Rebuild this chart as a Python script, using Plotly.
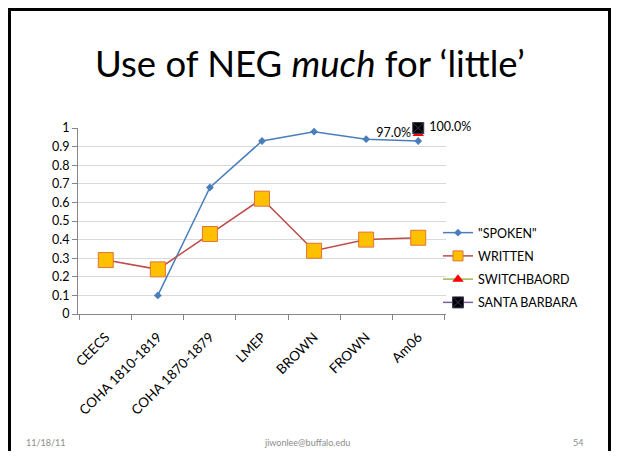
import plotly.graph_objects as go

categories = ["CEECS", "COHA 1810-1819", "COHA 1870-1879", "LMEP", "BROWN", "FROWN", "Am06"]
spoken = [None, 0.10, 0.68, 0.93, 0.98, 0.94, 0.93]
written = [0.29, 0.24, 0.43, 0.62, 0.34, 0.40, 0.41]
switchboard_cat = ["Am06"]
switchboard = [0.97]
santa_barbara_cat = ["Am06"]
santa_barbara = [1.00]
y_ticks = [0, 0.1, 0.2, 0.3, 0.4, 0.5, 0.6, 0.7, 0.8, 0.9, 1]
y_tick_text = ["0", "0.1", "0.2", "0.3", "0.4", "0.5", "0.6", "0.7", "0.8", "0.9", "1"]

# page has an 8px body margin; size the figure so the page is 619x459
OFF = 8
W, H = 619 - 2 * OFF, 459 - 2 * OFF
FONT = "Lato"


def px(x):
    return (x - OFF) / W


def py(y):
    return 1 - (y - OFF) / H


fig = go.Figure()
fig.add_trace(go.Scatter(
    x=categories, y=spoken, name='"SPOKEN"', mode="lines+markers",
    line=dict(color="#4A7EBB", width=1.5),
    marker=dict(symbol="diamond", size=6, color="#4A7EBB"),
    legendgroup="a", cliponaxis=False))
fig.add_trace(go.Scatter(
    x=categories, y=written, name="WRITTEN", mode="lines+markers",
    line=dict(color="#BE4B48", width=1.5),
    marker=dict(symbol="square", size=15, color="#FFC000", line=dict(color="#E0733A", width=1)),
    legendgroup="b", showlegend=False, cliponaxis=False))
# legend entry for WRITTEN with a smaller marker (legend only, no data)
fig.add_trace(go.Scatter(
    x=[None], y=[None], name="WRITTEN", mode="lines+markers",
    line=dict(color="#BE4B48", width=1.5),
    marker=dict(symbol="square", size=10, color="#FFC000", line=dict(color="#E0733A", width=1)),
    legendgroup="b"))
fig.add_trace(go.Scatter(
    x=switchboard_cat, y=switchboard, name="SWITCHBAORD", mode="lines+markers+text",
    line=dict(color="#98B954", width=1.5),
    marker=dict(symbol="triangle-up", size=10, color="#FF0000"),
    text=[f"{v*100:.1f}%" for v in switchboard], textposition="middle left",
    textfont=dict(family=FONT, size=12.5, color="#000000"),
    legendgroup="c", cliponaxis=False))
fig.add_trace(go.Scatter(
    x=santa_barbara_cat, y=santa_barbara, name="SANTA BARBARA", mode="lines+markers+text",
    line=dict(color="#7D60A0", width=1.5),
    marker=dict(symbol="square-x", size=11, color="#000000", line=dict(color="#3a3a5a", width=1)),
    text=[" " + f"{v*100:.1f}%" for v in santa_barbara], textposition="middle right",
    textfont=dict(family=FONT, size=12.5, color="#000000"),
    legendgroup="d", cliponaxis=False))

x0, x1 = 78, 446
y0, y1 = 314, 128
fig.update_layout(
    width=W, height=H,
    margin=dict(l=0, r=0, t=0, b=0, autoexpand=False),
    paper_bgcolor="white", plot_bgcolor="white",
    font=dict(family=FONT, size=12, color="#000000"),
    showlegend=True,
    legend=dict(x=px(438), y=py(218), xanchor="left", yanchor="top",
                font=dict(family=FONT, size=12.5), tracegroupgap=4, itemwidth=30,
                bgcolor="rgba(0,0,0,0)"),
    xaxis=dict(domain=[px(x0), px(x1)], type="category", categoryorder="array",
               categoryarray=categories, tickson="boundaries", ticks="outside",
               ticklen=5, tickcolor="#868686", showline=True, linecolor="#868686",
               showgrid=False, tickangle=-45, tickfont=dict(family=FONT, size=13.5),
               ticklabelstandoff=9, zeroline=False),
    yaxis=dict(domain=[py(y0), py(y1)], range=[0, 1],
               tickvals=y_ticks, ticktext=y_tick_text, ticks="outside", ticklen=5,
               tickcolor="#868686", showline=True, linecolor="#868686",
               showgrid=True, gridcolor="#D9D9D9", zeroline=False,
               tickfont=dict(family=FONT, size=12.5)),
)

fig.add_shape(type="rect", xref="paper", yref="paper",
              x0=px(9.5), x1=px(609.5), y0=py(480), y1=py(9.5),
              line=dict(color="#000000", width=3), layer="above")

fig.add_annotation(text="Use of NEG <i>much</i> for ‘little’", xref="paper", yref="paper",
                   x=px(310), y=py(63), xanchor="center", yanchor="middle", showarrow=False,
                   font=dict(family=FONT, size=36.5, color="#000000"))
fig.add_annotation(text="11/18/11", xref="paper", yref="paper",
                   x=px(45), y=py(442), xanchor="center", yanchor="middle", showarrow=False,
                   font=dict(family=FONT, size=9, color="#8C8C8C"))
fig.add_annotation(text="jiwonlee@buffalo.edu", xref="paper", yref="paper",
                   x=px(307), y=py(442), xanchor="center", yanchor="middle", showarrow=False,
                   font=dict(family=FONT, size=9, color="#8C8C8C"))
fig.add_annotation(text="54", xref="paper", yref="paper",
                   x=px(578), y=py(442), xanchor="center", yanchor="middle", showarrow=False,
                   font=dict(family=FONT, size=9, color="#8C8C8C"))

fig.write_html("out.html")
